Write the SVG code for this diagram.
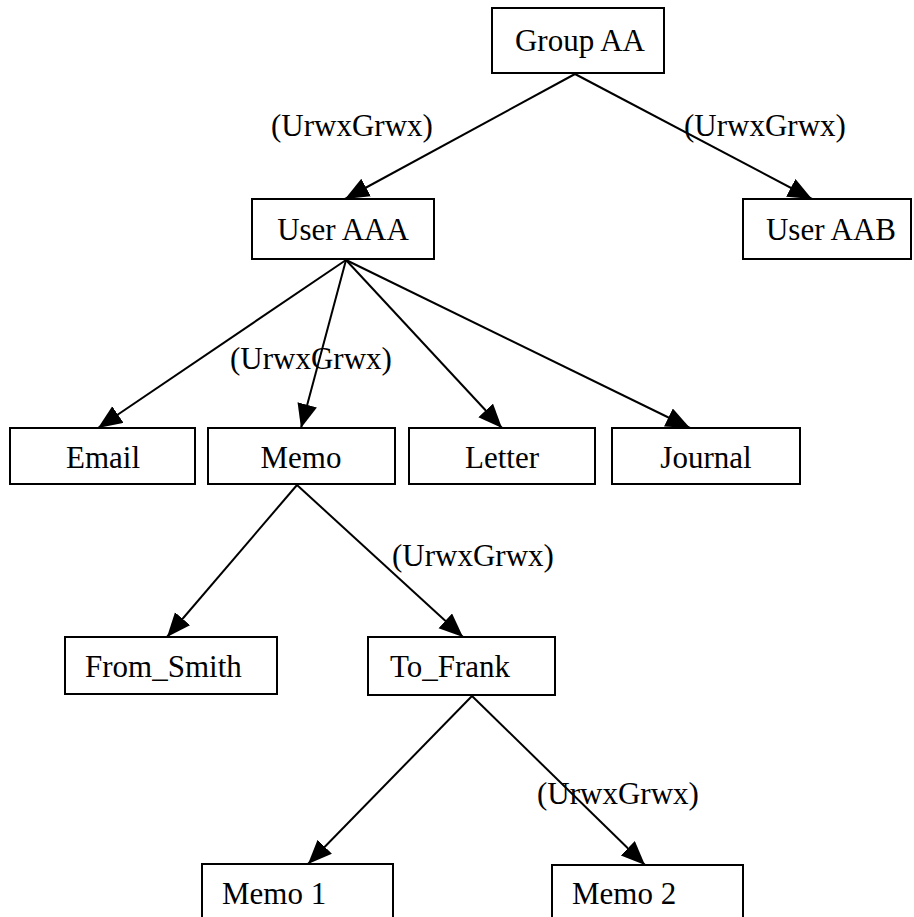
<svg xmlns="http://www.w3.org/2000/svg" width="914" height="917" viewBox="0 0 914 917">
  <style>
    .box { fill: #ffffff; stroke: #000000; stroke-width: 2; }
    .lbl { font-family: "Liberation Serif", "Times New Roman", serif; font-size: 31px; fill: #000000; }
    .mid { text-anchor: middle; }
    .edge { stroke: #000000; stroke-width: 2; fill: none; marker-end: url(#arrow); }
  </style>
  <defs>
    <marker id="arrow" markerUnits="userSpaceOnUse" markerWidth="26" markerHeight="22" refX="24" refY="10" orient="auto">
      <path d="M0,0 L24,10 L0,20 z" fill="#000000"/>
    </marker>
  </defs>
  <rect width="914" height="917" fill="#ffffff"/>

  <!-- connectors -->
  <g id="connectors">
    <line class="edge" x1="575" y1="74" x2="345" y2="199"/>
    <line class="edge" x1="575" y1="74" x2="812" y2="199"/>
    <line class="edge" x1="346" y1="260" x2="98" y2="428"/>
    <line class="edge" x1="346" y1="260" x2="301" y2="428"/>
    <line class="edge" x1="346" y1="260" x2="502" y2="428"/>
    <line class="edge" x1="346" y1="260" x2="690" y2="428"/>
    <line class="edge" x1="297" y1="485" x2="167" y2="637"/>
    <line class="edge" x1="297" y1="485" x2="463" y2="637"/>
    <line class="edge" x1="472" y1="696" x2="308" y2="864"/>
    <line class="edge" x1="472" y1="696" x2="645" y2="865"/>
  </g>

  <!-- permission labels -->
  <g id="edge-labels">
    <text class="lbl" x="271" y="136">(UrwxGrwx)</text>
    <text class="lbl" x="684" y="136">(UrwxGrwx)</text>
    <text class="lbl" x="230" y="369">(UrwxGrwx)</text>
    <text class="lbl" x="392" y="566">(UrwxGrwx)</text>
    <text class="lbl" x="537" y="804">(UrwxGrwx)</text>
  </g>

  <g id="group-aa">
    <rect class="box" x="492" y="8" width="172" height="65"/>
    <text class="lbl mid" x="580" y="51">Group AA</text>
  </g>
  <g id="user-aaa">
    <rect class="box" x="252" y="199" width="182" height="60"/>
    <text class="lbl mid" x="343" y="240">User AAA</text>
  </g>
  <g id="user-aab">
    <rect class="box" x="743" y="199" width="168" height="60"/>
    <text class="lbl mid" x="831" y="240">User AAB</text>
  </g>
  <g id="email">
    <rect class="box" x="10" y="428" width="185" height="56"/>
    <text class="lbl mid" x="103" y="468">Email</text>
  </g>
  <g id="memo">
    <rect class="box" x="208" y="428" width="187" height="56"/>
    <text class="lbl mid" x="301" y="468">Memo</text>
  </g>
  <g id="letter">
    <rect class="box" x="409" y="428" width="186" height="56"/>
    <text class="lbl mid" x="502" y="468">Letter</text>
  </g>
  <g id="journal">
    <rect class="box" x="612" y="428" width="188" height="56"/>
    <text class="lbl mid" x="706" y="468">Journal</text>
  </g>
  <g id="from-smith">
    <rect class="box" x="65" y="637" width="212" height="57"/>
    <text class="lbl" x="85" y="677">From_Smith</text>
  </g>
  <g id="to-frank">
    <rect class="box" x="368" y="637" width="187" height="58"/>
    <text class="lbl" x="390" y="677">To_Frank</text>
  </g>
  <g id="memo-1">
    <rect class="box" x="202" y="864" width="191" height="70"/>
    <text class="lbl" x="222" y="904">Memo 1</text>
  </g>
  <g id="memo-2">
    <rect class="box" x="552" y="865" width="191" height="70"/>
    <text class="lbl" x="572" y="904">Memo 2</text>
  </g>
</svg>
